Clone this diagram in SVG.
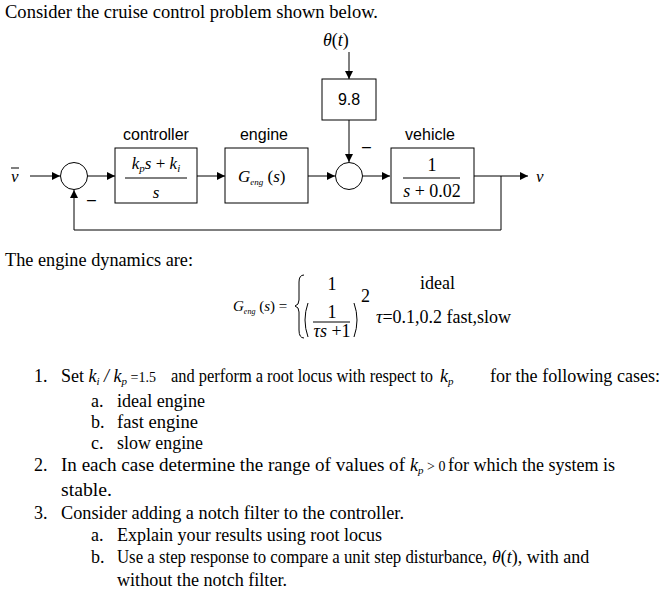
<svg xmlns="http://www.w3.org/2000/svg" width="670" height="599" viewBox="0 0 670 599">
<style>
.t{font-family:"Liberation Serif",serif;font-size:18px;fill:#000}
.m{font-family:"Liberation Serif",serif;font-style:italic;fill:#000}
.s{font-family:"Liberation Sans",sans-serif;font-size:16px;fill:#000}
.b{fill:#fff;stroke:#000;stroke-width:1}
.c{fill:none;stroke:#000;stroke-width:1}
</style>
<defs><marker id="a" viewBox="0 0 10 10" refX="10" refY="5" markerWidth="10" markerHeight="8" markerUnits="userSpaceOnUse" orient="auto"><path d="M0,0L10,5L0,10z" fill="#000"/></marker></defs>
<rect width="670" height="599" fill="#fff"/>
<text class="t" x="5" y="18" textLength="373" lengthAdjust="spacingAndGlyphs">Consider the cruise control problem shown below.</text>
<g id="theta"><text class="m" x="323" y="46" font-size="18">θ<tspan font-style="normal">(</tspan>t<tspan font-style="normal">)</tspan></text></g>
<text class="t" x="5" y="266" textLength="188" lengthAdjust="spacingAndGlyphs">The engine dynamics are:</text>
<g id="connectors">
<path class="c" d="M30,176H60" marker-end="url(#a)"/>
<path class="c" d="M87,176H115" marker-end="url(#a)"/>
<path class="c" d="M197,176H225" marker-end="url(#a)"/>
<path class="c" d="M308,176H335" marker-end="url(#a)"/>
<path class="c" d="M363,176H390" marker-end="url(#a)"/>
<path class="c" d="M474,176H528" marker-end="url(#a)"/>
<path class="c" d="M349,52V79" marker-end="url(#a)"/>
<path class="c" d="M349,120V162" marker-end="url(#a)"/>
<path class="c" d="M501,176V230H74V190" marker-end="url(#a)"/>
</g>
<g id="sum1"><circle class="b" cx="74" cy="176" r="13.5"/><text class="s" x="87" y="205">–</text></g>
<g id="sum2"><circle class="b" cx="349" cy="176" r="13.5"/><text class="s" x="362" y="152">–</text></g>
<g id="vbar"><text class="m" x="11" y="182" font-size="17">v</text><line class="c" x1="11" y1="168" x2="19" y2="168"/></g>
<g id="vout"><text class="m" x="536" y="182" font-size="17">v</text></g>
<g id="controller"><text class="s" x="156" y="140" text-anchor="middle">controller</text>
<rect class="b" x="115" y="148" width="82" height="55"/>
<text class="m" x="156" y="169" font-size="17" text-anchor="middle">k<tspan font-size="11" dy="3">p</tspan><tspan dy="-3">s</tspan><tspan font-style="normal"> + </tspan>k<tspan font-size="11" dy="3">i</tspan></text>
<line class="c" x1="125" y1="178" x2="187" y2="178"/>
<text class="m" x="156" y="198" font-size="17" text-anchor="middle">s</text></g>
<g id="engine"><text class="s" x="264" y="140" text-anchor="middle">engine</text>
<rect class="b" x="225" y="148" width="83" height="55"/>
<text class="m" x="238" y="182" font-size="17">G<tspan font-size="9" dy="3">eng</tspan><tspan dy="-3" font-style="normal"> (</tspan>s<tspan font-style="normal">)</tspan></text></g>
<g id="gain"><rect class="b" x="322" y="79" width="54" height="41"/><text class="s" x="349" y="105" text-anchor="middle">9.8</text></g>
<g id="vehicle"><text class="s" x="430" y="140" text-anchor="middle">vehicle</text>
<rect class="b" x="391" y="148" width="83" height="55"/>
<text class="t" x="432" y="171" font-size="17" text-anchor="middle">1</text>
<line class="c" x1="403" y1="178" x2="460" y2="178"/>
<text class="t" x="432" y="197" font-size="17" text-anchor="middle"><tspan font-style="italic">s</tspan> + 0.02</text></g>
<g id="equation">
<text class="m" x="233" y="311" font-size="15">G<tspan font-size="8" dy="3">eng</tspan><tspan dy="-3" font-style="normal"> (</tspan>s<tspan font-style="normal">) =</tspan></text>
<path class="c" d="M304,275Q299,275 299,282V300Q299,305 295,306Q299,307 299,312V330Q299,338 304,338"/>
<text class="t" x="332" y="290" font-size="14" text-anchor="middle">1</text>
<text class="t" x="420" y="289" font-size="14">ideal</text>
<path class="c" d="M308,303Q302,320 308,337"/>
<text class="t" x="332" y="318" font-size="13" text-anchor="middle">1</text>
<line class="c" x1="313" y1="322" x2="350" y2="322"/>
<text class="t" x="332" y="337" font-size="13" text-anchor="middle"><tspan font-style="italic">τs</tspan> +1</text>
<path class="c" d="M354,303Q360,320 354,337"/>
<text class="t" x="361" y="302" font-size="9">2</text>
<text class="t" x="376" y="323" font-size="14"><tspan font-style="italic">τ</tspan>=0.1,0.2 fast,slow</text>
</g>
<g id="list">
<text class="t" x="34" y="382">1.</text>
<text class="t" x="61" y="382">Set <tspan font-style="italic">k<tspan font-size="11" dy="3">i</tspan><tspan dy="-3"> / k</tspan><tspan font-size="11" dy="3">p</tspan></tspan><tspan dy="-3" font-size="14"> =1.5</tspan></text>
<text class="t" x="171" y="382" textLength="262" lengthAdjust="spacingAndGlyphs">and perform a root locus with respect to</text>
<text class="m" x="440" y="382" font-size="18">k<tspan font-size="11" dy="3">p</tspan></text>
<text class="t" x="490" y="382" textLength="170" lengthAdjust="spacingAndGlyphs">for the following cases:</text>
<text class="t" x="91" y="407">a.</text><text class="t" x="117" y="407" textLength="88" lengthAdjust="spacingAndGlyphs">ideal engine</text>
<text class="t" x="91" y="428">b.</text><text class="t" x="117" y="428" textLength="81" lengthAdjust="spacingAndGlyphs">fast engine</text>
<text class="t" x="91" y="449">c.</text><text class="t" x="117" y="449" textLength="86" lengthAdjust="spacingAndGlyphs">slow engine</text>
<text class="t" x="34" y="471">2.</text>
<text class="t" x="61" y="471" textLength="344" lengthAdjust="spacingAndGlyphs">In each case determine the range of values of</text>
<text class="m" x="410" y="471" font-size="18">k<tspan font-size="11" dy="3">p</tspan><tspan dy="-3" font-size="14" font-style="normal"> &gt; 0</tspan></text>
<text class="t" x="448" y="471" textLength="167" lengthAdjust="spacingAndGlyphs">for which the system is</text>
<text class="t" x="61" y="496" textLength="51" lengthAdjust="spacingAndGlyphs">stable.</text>
<text class="t" x="34" y="519">3.</text><text class="t" x="61" y="519" textLength="343" lengthAdjust="spacingAndGlyphs">Consider adding a notch filter to the controller.</text>
<text class="t" x="91" y="541">a.</text><text class="t" x="117" y="541" textLength="265" lengthAdjust="spacingAndGlyphs">Explain your results using root locus</text>
<text class="t" x="91" y="563">b.</text><text class="t" x="117" y="563" textLength="370" lengthAdjust="spacingAndGlyphs">Use a step response to compare a unit step disturbance,</text>
<text class="t" x="492" y="563"><tspan font-style="italic">θ</tspan>(<tspan font-style="italic">t</tspan>), with and</text>
<text class="t" x="117" y="586" textLength="170" lengthAdjust="spacingAndGlyphs">without the notch filter.</text>
</g>
</svg>
